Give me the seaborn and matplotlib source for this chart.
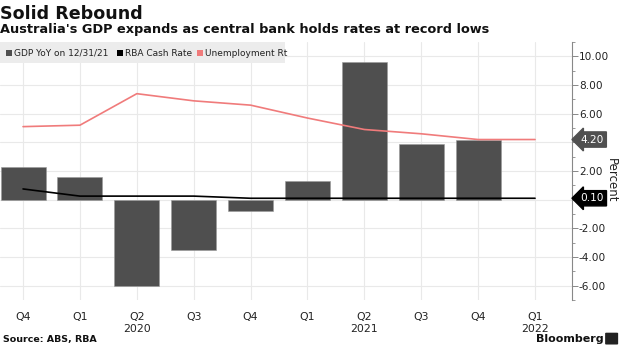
import numpy as np
import pandas as pd
import matplotlib
matplotlib.use("Agg")
import matplotlib.pyplot as plt
from matplotlib.ticker import MultipleLocator, FuncFormatter
from matplotlib.patches import Rectangle, FancyBboxPatch
import seaborn as sns

# Quarterly data, Q4 2019 .. Q1 2022
quarters = ["Q4", "Q1", "Q2", "Q3", "Q4", "Q1", "Q2", "Q3", "Q4", "Q1"]
years = ["", "", "2020", "", "", "", "2021", "", "", "2022"]
gdp_yoy = [2.3, 1.6, -6.0, -3.5, -0.8, 1.3, 9.6, 3.9, 4.2, np.nan]
cash_rate = [0.75, 0.25, 0.25, 0.25, 0.10, 0.10, 0.10, 0.10, 0.10, 0.10]
unemployment = [5.1, 5.2, 7.4, 6.9, 6.6, 5.7, 4.9, 4.6, 4.2, 4.2]

legend_labels = ["GDP YoY on 12/31/21", "RBA Cash Rate", "Unemployment Rt"]
colors = ["#4f4f4f", "#000000", "#f07b7b"]

# last values shown as tags on the axis
last_gdp = gdp_yoy[8]
last_cash = cash_rate[-1]

idx = np.arange(len(quarters))
df = pd.DataFrame({"pos": idx, "gdp": gdp_yoy, "cash": cash_rate, "unemp": unemployment})

sns.set_style("white")
plt.rcParams["font.family"] = ["DejaVu Sans"]

fig = plt.figure(figsize=(6.2, 3.48), dpi=100)
ax = fig.add_axes([0.0, 0.138, 0.9226, 0.741])

sns.barplot(data=df.dropna(subset=["gdp"]), x="pos", y="gdp", native_scale=True,
            width=0.79, color=colors[0], saturation=1, errorbar=None,
            edgecolor="#9a9a9a", linewidth=0.4, ax=ax, zorder=2)
sns.lineplot(data=df, x="pos", y="unemp", color=colors[2], linewidth=1.2, ax=ax, zorder=3)
sns.lineplot(data=df, x="pos", y="cash", color=colors[1], linewidth=1.2, ax=ax, zorder=4)

ax.set_xlim(-0.405, 9.65)
ax.set_ylim(-7.0, 11.0)

# axis styling; the 4.00 and 0.00 labels give way to the value tags
ax.yaxis.tick_right()
ax.yaxis.set_major_locator(MultipleLocator(2))
ax.yaxis.set_minor_locator(MultipleLocator(1))
ax.yaxis.set_major_formatter(FuncFormatter(
    lambda v, p: "" if round(v) in (0, 4) else f"{v:.2f}"))
ax.set_xticks(idx)
ax.set_xticklabels([q + ("\n" + y if y else "") for q, y in zip(quarters, years)])
ax.tick_params(axis="x", length=0, pad=9, labelsize=7.8, colors="#222222")
ax.tick_params(axis="y", which="major", direction="out", length=4, width=0.7,
               color="#888888", labelsize=7.6, labelcolor="#222222", pad=1)
ax.tick_params(axis="y", which="minor", direction="out", length=2.5, width=0.6, color="#888888")
for s in ["top", "left", "bottom"]:
    ax.spines[s].set_visible(False)
ax.spines["right"].set_color("#888888")
ax.spines["right"].set_linewidth(0.8)
ax.grid(True, which="major", color="#e9e9e9", linewidth=0.8, zorder=0)
ax.set_axisbelow(True)
ax.set_xlabel("")
ax.set_ylabel("")
fig.text(611 / 620, 1 - 180 / 348, "Percent", rotation=270, ha="center", va="center",
         fontsize=8.5, color="#222222")

ax.annotate(f"{last_gdp:.2f}", xy=(1.0, last_gdp), xycoords=("axes fraction", "data"),
            xytext=(6, 0), textcoords="offset points", ha="left", va="center",
            fontsize=7.6, color="white",
            bbox=dict(boxstyle="larrow,pad=0.25", fc="#505050", ec="#505050"))
ax.annotate(f"{last_cash:.2f}", xy=(1.0, last_cash), xycoords=("axes fraction", "data"),
            xytext=(6, 0), textcoords="offset points", ha="left", va="center",
            fontsize=7.6, color="white",
            bbox=dict(boxstyle="larrow,pad=0.25", fc="#000000", ec="#000000"))

# legend strip
ax.add_patch(Rectangle((0, 0.919), 0.498, 0.081, transform=ax.transAxes,
                       facecolor="#ececec", edgecolor="none", zorder=5))
lx = [0.0105, 0.2045, 0.3445]
for x, lab, c in zip(lx, legend_labels, colors):
    ax.add_patch(Rectangle((x, 0.946), 0.0105, 0.023, transform=ax.transAxes,
                           facecolor=c, edgecolor="none", zorder=6))
    ax.text(x + 0.0135, 0.957, lab, transform=ax.transAxes, ha="left", va="center",
            fontsize=6.5, color="#222222", zorder=6)

# titles and footer
fig.text(0.0, 0.946, "Solid Rebound", ha="left", va="baseline",
         fontsize=12.6, fontweight="bold", color="#111111")
fig.text(0.0, 0.905, "Australia's GDP expands as central bank holds rates at record lows",
         ha="left", va="baseline", fontsize=9.3, fontweight="bold", color="#111111")
fig.text(0.005, 0.023, "Source: ABS, RBA", ha="left", va="center",
         fontsize=6.8, fontweight="bold", color="#111111")
fig.text(0.973, 0.027, "Bloomberg", ha="right", va="center",
         fontsize=8, fontweight="semibold", color="#111111")
fig.patches.append(FancyBboxPatch((0.978, 0.012), 0.017, 0.03, transform=fig.transFigure,
                                  boxstyle="round,pad=0.002", fc="#222222", ec="none"))

fig.savefig("out.png", dpi=100)
